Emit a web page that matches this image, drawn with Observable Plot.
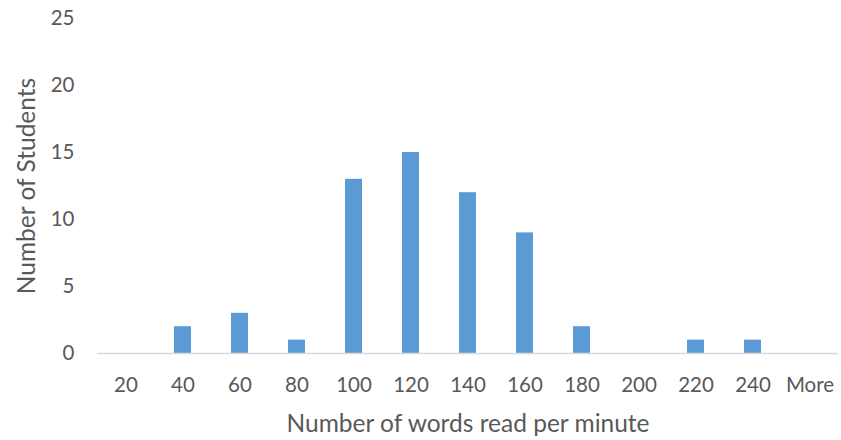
<!DOCTYPE html>
<html>
<head>
<meta charset="utf-8">
<script src="https://cdn.jsdelivr.net/npm/d3@7"></script>
<script src="https://cdn.jsdelivr.net/npm/@observablehq/plot@0.6"></script>
<style>
  html, body { margin: 0; padding: 0; background: #fff; }
  #chart svg { display: block; }
</style>
</head>
<body>
<div id="chart"></div>
<script>
const bins = ["20", "40", "60", "80", "100", "120", "140", "160", "180", "200", "220", "240", "More"];
const counts = [0, 2, 3, 1, 13, 15, 12, 9, 2, 0, 1, 1, 0];
const yTicks = [0, 5, 10, 15, 20, 25];

const data = bins.map((b, i) => ({bin: b, count: counts[i]}));

const chart = Plot.plot({
  width: 841,
  height: 440,
  marginLeft: 97,
  marginRight: 3,
  marginTop: 18,
  marginBottom: 87,
  style: {fontFamily: "Lato, sans-serif", fontSize: "20.5px", color: "#595959", background: "#fff"},
  x: {domain: bins, paddingInner: 0.7, paddingOuter: 0.35, label: "Number of words read per minute", labelAnchor: "center", labelOffset: 78, tickSize: 0, tickPadding: 24},
  y: {domain: [0, 25], ticks: yTicks, label: "Number of Students", labelAnchor: "center", labelArrow: "none", labelOffset: 80, tickSize: 0, tickPadding: 23},
  marks: [
    Plot.barY(data, {x: "bin", y: "count", fill: "#5B9BD5"}),
    Plot.ruleY([0], {stroke: "#D9D9D9", strokeWidth: 1.5})
  ]
});
chart.querySelectorAll("[aria-label$='axis label']").forEach(t => t.setAttribute("font-size", "24.5px"));
document.getElementById("chart").appendChild(chart);
</script>
</body>
</html>
